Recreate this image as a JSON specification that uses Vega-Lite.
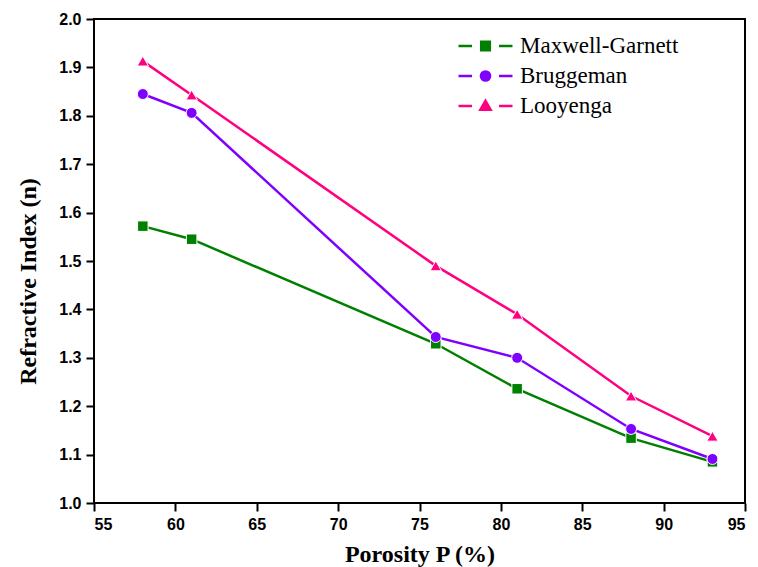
{
  "$schema": "https://vega.github.io/schema/vega-lite/v6.json",
  "width": 651,
  "height": 484,
  "autosize": {"type": "none"},
  "padding": {"left": 94, "top": 19, "right": 13, "bottom": 64},
  "background": "white",
  "data": {
    "values": [
      {"P": 58, "n": 1.572, "model": "Maxwell-Garnett"},
      {"P": 61, "n": 1.545, "model": "Maxwell-Garnett"},
      {"P": 76, "n": 1.329, "model": "Maxwell-Garnett"},
      {"P": 81, "n": 1.236, "model": "Maxwell-Garnett"},
      {"P": 88, "n": 1.134, "model": "Maxwell-Garnett"},
      {"P": 93, "n": 1.085, "model": "Maxwell-Garnett"},
      {"P": 58, "n": 1.845, "model": "Bruggeman"},
      {"P": 61, "n": 1.806, "model": "Bruggeman"},
      {"P": 76, "n": 1.343, "model": "Bruggeman"},
      {"P": 81, "n": 1.300, "model": "Bruggeman"},
      {"P": 88, "n": 1.153, "model": "Bruggeman"},
      {"P": 93, "n": 1.091, "model": "Bruggeman"},
      {"P": 58, "n": 1.913, "model": "Looyenga"},
      {"P": 61, "n": 1.843, "model": "Looyenga"},
      {"P": 76, "n": 1.490, "model": "Looyenga"},
      {"P": 81, "n": 1.390, "model": "Looyenga"},
      {"P": 88, "n": 1.221, "model": "Looyenga"},
      {"P": 93, "n": 1.138, "model": "Looyenga"}
    ]
  },
  "config": {
    "view": {"stroke": "black", "strokeWidth": 2},
    "axis": {
      "grid": false,
      "domain": false,
      "tickColor": "black",
      "tickWidth": 2,
      "tickSize": 8,
      "labelFont": "Liberation Sans",
      "labelFontWeight": "bold",
      "labelFontSize": 16,
      "labelColor": "black",
      "titleFont": "Liberation Serif",
      "titleFontWeight": "bold",
      "titleFontSize": 24,
      "titleColor": "black"
    },
    "legend": {
      "labelFont": "Liberation Serif",
      "labelFontSize": 23,
      "labelColor": "black",
      "labelOffset": 6,
      "symbolSize": 2916,
      "symbolStrokeWidth": 2.5,
      "rowPadding": 6,
      "clipHeight": 24
    }
  },
  "encoding": {
    "x": {
      "field": "P",
      "type": "quantitative",
      "scale": {"domain": [55, 95], "nice": false, "zero": false},
      "axis": {
        "title": "Porosity P (%)",
        "values": [55, 60, 65, 70, 75, 80, 85, 90, 95],
        "labelPadding": 5,
        "titleY": 58,
        "titleBaseline": "alphabetic"
      }
    },
    "y": {
      "field": "n",
      "type": "quantitative",
      "scale": {"domain": [1.0, 2.0], "nice": false, "zero": false},
      "axis": {
        "title": "Refractive Index (n)",
        "values": [1.0, 1.1, 1.2, 1.3, 1.4, 1.5, 1.6, 1.7, 1.8, 1.9, 2.0],
        "format": ".1f",
        "labelPadding": 5,
        "titleX": -66,
        "titleY": 262,
        "titleAngle": -90,
        "titleAlign": "center",
        "titleBaseline": "middle"
      }
    }
  },
  "layer": [
    {
      "mark": {"type": "line", "strokeWidth": 2.5},
      "encoding": {
        "color": {
          "field": "model",
          "type": "nominal",
          "scale": {"domain": ["Maxwell-Garnett", "Bruggeman", "Looyenga"], "range": ["#008000", "#8000FF", "#FF0080"]},
          "legend": null
        }
      }
    },
    {
      "mark": {"type": "point", "filled": true, "opacity": 1, "stroke": "white", "strokeWidth": 1},
      "encoding": {
        "color": {
          "field": "model",
          "type": "nominal",
          "scale": {"domain": ["Maxwell-Garnett", "Bruggeman", "Looyenga"], "range": ["#008000", "#8000FF", "#FF0080"]},
          "legend": null
        },
        "shape": {
          "field": "model",
          "type": "nominal",
          "scale": {"domain": ["Maxwell-Garnett", "Bruggeman", "Looyenga"], "range": ["square", "circle", "triangle-up"]},
          "legend": null
        },
        "size": {
          "field": "model",
          "type": "nominal",
          "scale": {"domain": ["Maxwell-Garnett", "Bruggeman", "Looyenga"], "range": [110, 130, 250]},
          "legend": null
        }
      }
    },
    {
      "transform": [{"filter": "datum.P > 1000"}],
      "mark": {"type": "point", "filled": true, "opacity": 1, "strokeWidth": 2.5},
      "encoding": {
        "fill": {
          "field": "model",
          "type": "nominal",
          "scale": {"domain": ["Maxwell-Garnett", "Bruggeman", "Looyenga"], "range": ["#008000", "#8000FF", "#FF0080"]},
          "legend": {
            "title": null, "orient": "none", "legendX": 363, "legendY": 15, "labelFont": "Liberation Serif",
            "encode": {"labels": {"font": {"value": "Liberation Serif"}}, "symbols": {"strokeWidth": {"value": 2.5}}}
          }
        },
        "stroke": {
          "field": "model",
          "type": "nominal",
          "scale": {"domain": ["Maxwell-Garnett", "Bruggeman", "Looyenga"], "range": ["#008000", "#8000FF", "#FF0080"]},
          "legend": {
            "title": null, "orient": "none", "legendX": 363, "legendY": 15, "labelFont": "Liberation Serif",
            "encode": {"labels": {"font": {"value": "Liberation Serif"}}, "symbols": {"strokeWidth": {"value": 2.5}}}
          }
        },
        "shape": {
          "field": "model",
          "type": "nominal",
          "scale": {
            "domain": ["Maxwell-Garnett", "Bruggeman", "Looyenga"],
            "range": [
              "M-1,0H-0.5M0.5,0H1M-0.16,-0.16H0.16V0.16H-0.16Z",
              "M-1,0H-0.5M0.5,0H1M-0.17,0A0.17,0.17 0 1,0 0.17,0A0.17,0.17 0 1,0 -0.17,0Z",
              "M-1,0H-0.5M0.5,0H1M0,-0.19L0.19,0.14H-0.19Z"
            ]
          },
          "legend": {
            "title": null, "orient": "none", "legendX": 363, "legendY": 15, "labelFont": "Liberation Serif",
            "encode": {"labels": {"font": {"value": "Liberation Serif"}}, "symbols": {"strokeWidth": {"value": 2.5}}}
          }
        }
      }
    }
  ],
  "resolve": {"scale": {"color": "independent", "shape": "independent", "size": "independent", "fill": "independent", "stroke": "independent"}}
}
